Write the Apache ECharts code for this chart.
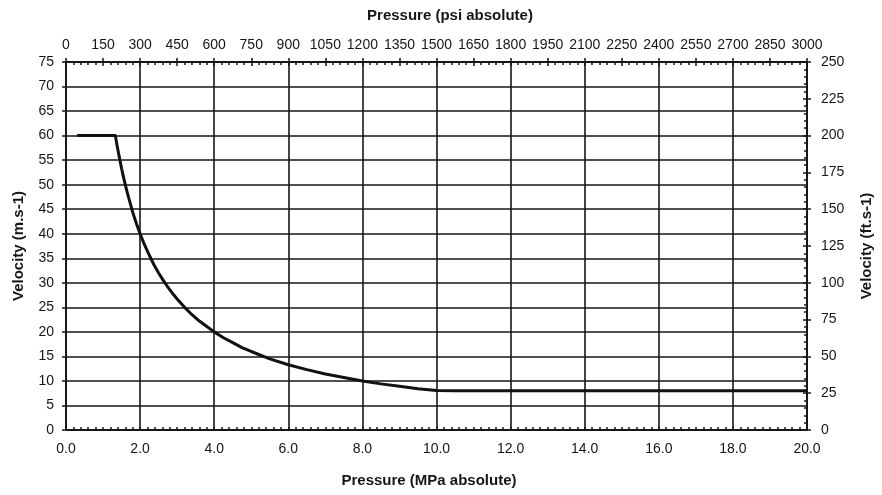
<!DOCTYPE html>
<html>
<head>
<meta charset="utf-8">
<script src="https://cdn.jsdelivr.net/npm/echarts@6/dist/echarts.min.js"></script>
<style>
html,body{margin:0;padding:0;background:#fff;}
#chart{width:882px;height:495px;}
</style>
</head>
<body>
<div id="chart"></div>
<script>
// Pressure in MPa (absolute) and velocity in m/s
var pressureMPa = [0.3, 1.33, 1.4, 1.45, 1.5, 1.55, 1.6, 1.65, 1.7, 1.8, 1.9, 2.0, 2.1, 2.2, 2.3, 2.4, 2.5, 2.6, 2.75, 2.9, 3.0, 3.2, 3.4, 3.6, 3.8, 4.0, 4.25, 4.5, 4.75, 5.0, 5.5, 6.0, 6.5, 7.0, 7.5, 8.0, 8.5, 9.0, 9.5, 10.0, 10.5, 12.0, 14.0, 16.0, 18.0, 20.0];
var velocityMS  = [60, 60, 57.1, 55.2, 53.3, 51.6, 50, 48.5, 47.1, 44.4, 42.1, 40, 38.1, 36.4, 34.8, 33.3, 32, 30.8, 29.1, 27.6, 26.7, 25, 23.5, 22.2, 21.1, 20, 18.8, 17.8, 16.8, 16, 14.5, 13.3, 12.3, 11.4, 10.7, 10, 9.4, 8.9, 8.4, 8.05, 8.0, 8.0, 8.0, 8.0, 8.0, 8.0];

var bottomAxisName = 'Pressure (MPa absolute)';
var topAxisName = 'Pressure (psi absolute)';
var leftAxisName = 'Velocity (m.s-1)';
var rightAxisName = 'Velocity (ft.s-1)';

var ink = '#161616';
var font = 'Liberation Sans, Arial, Helvetica, sans-serif';

var seriesData = pressureMPa.map(function (p, i) { return [p, velocityMS[i]]; });

var chart = echarts.init(document.getElementById('chart'));
chart.setOption({
  backgroundColor: '#fff',
  animation: false,
  grid: { left: 66, right: 75, top: 62, bottom: 65, containLabel: false },
  xAxis: [
    {
      type: 'value', position: 'bottom', min: 0, max: 20, interval: 2,
      name: bottomAxisName, nameLocation: 'middle', nameGap: 43,
      nameTextStyle: { color: ink, fontFamily: font, fontSize: 15, fontWeight: 'bold', padding: [0, 15, 0, 0] },
      axisLine: { show: true, onZero: false, lineStyle: { color: ink, width: 2 } },
      axisTick: { show: true, inside: true, length: 3, lineStyle: { color: ink, width: 1.5 } },
      minorTick: { show: true, splitNumber: 10, length: 3, lineStyle: { color: ink, width: 1.5 } },
      splitLine: { show: true, lineStyle: { color: ink, width: 1.6 } },
      axisLabel: { color: ink, fontFamily: font, fontSize: 14, margin: 12, interval: 0,
        formatter: function (v) { return v.toFixed(1); } }
    },
    {
      type: 'value', position: 'top', min: 0, max: 3000, interval: 150,
      name: topAxisName, nameLocation: 'middle', nameGap: 39,
      nameTextStyle: { color: ink, fontFamily: font, fontSize: 15, fontWeight: 'bold', padding: [0, 0, 0, 27] },
      axisLine: { show: true, onZero: false, lineStyle: { color: ink, width: 2 } },
      axisTick: { show: true, inside: false, length: 4, lineStyle: { color: ink, width: 1.5 } },
      minorTick: { show: false },
      splitLine: { show: false },
      axisLabel: { color: ink, fontFamily: font, fontSize: 14, margin: 10, interval: 0, hideOverlap: false,
        formatter: function (v) { return String(v); } }
    },
    {
      type: 'value', position: 'top', offset: 0, min: 0, max: 3000, interval: 150,
      axisLine: { show: false, onZero: false },
      axisTick: { show: true, inside: true, length: 4, lineStyle: { color: ink, width: 1.5 } },
      minorTick: { show: true, splitNumber: 5, length: 3, lineStyle: { color: ink, width: 1.5 } },
      splitLine: { show: false },
      axisLabel: { show: false }
    }
  ],
  yAxis: [
    {
      type: 'value', position: 'left', min: 0, max: 75, interval: 5,
      name: leftAxisName, nameLocation: 'middle', nameGap: 40, nameRotate: 90,
      nameTextStyle: { color: ink, fontFamily: font, fontSize: 15, fontWeight: 'bold' },
      axisLine: { show: true, onZero: false, lineStyle: { color: ink, width: 2 } },
      axisTick: { show: true, inside: false, length: 4, lineStyle: { color: ink, width: 1.5 } },
      splitLine: { show: true, lineStyle: { color: ink, width: 1.6 } },
      axisLabel: { color: ink, fontFamily: font, fontSize: 14, margin: 12 }
    },
    {
      type: 'value', position: 'right', min: 0, max: 250, interval: 25,
      name: rightAxisName, nameLocation: 'middle', nameGap: 52, nameRotate: 90,
      nameTextStyle: { color: ink, fontFamily: font, fontSize: 15, fontWeight: 'bold' },
      axisLine: { show: true, onZero: false, lineStyle: { color: ink, width: 2 } },
      axisTick: { show: true, inside: false, length: 4, lineStyle: { color: ink, width: 1.5 } },
      splitLine: { show: false },
      axisLabel: { color: ink, fontFamily: font, fontSize: 14, margin: 14 }
    },
    {
      type: 'value', position: 'right', offset: 0, min: 0, max: 250, interval: 25,
      axisLine: { show: false, onZero: false },
      axisTick: { show: true, inside: true, length: 4, lineStyle: { color: ink, width: 1.5 } },
      minorTick: { show: true, splitNumber: 5, length: 3, lineStyle: { color: ink, width: 1.5 } },
      splitLine: { show: false },
      axisLabel: { show: false }
    }
  ],
  series: [
    {
      type: 'line', xAxisIndex: 0, yAxisIndex: 0,
      data: seriesData, showSymbol: false, smooth: false,
      lineStyle: { color: '#111', width: 3, join: 'round' }
    }
  ]
});
</script>
</body>
</html>
